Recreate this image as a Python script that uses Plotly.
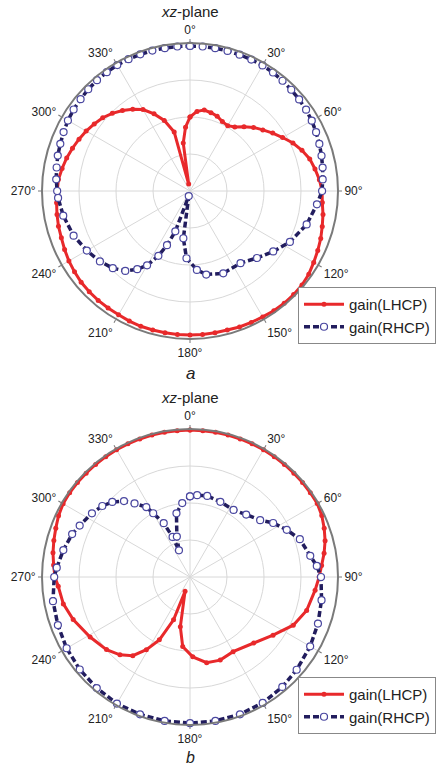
import plotly.graph_objects as go

# ---------------- data (gain in dB, angle in degrees) ----------------
A_LHCP_THETA = [0, 5, 10, 15, 20, 25, 30, 35, 40, 45,
                50, 55, 60, 65, 70, 75, 80, 85, 90, 95,
                100, 105, 110, 115, 120, 125, 130, 135, 140, 145,
                150, 155, 160, 165, 170, 175, 180, 185, 190, 195,
                200, 205, 210, 215, 220, 225, 230, 235, 240, 245,
                250, 255, 260, 265, 270, 275, 280, 285, 290, 295,
                300, 305, 310, 315, 320, 325, 330, 335, 340, 345,
                349, 352, 356, 360]
A_LHCP_GAIN = [-20.0, -18.4, -17.8, -18.1, -18.5, -19.3, -19.6, -18.9, -17.3, -15.7,
               -14.3, -12.7, -11.1, -9.3, -7.8, -6.5, -5.7, -4.9, -4.3, -4.1,
               -3.5, -3.0, -2.4, -1.9, -1.4, -0.8, -0.5, -0.4, -0.4, -0.5,
               -0.7, -0.8, -0.9, -1.1, -1.1, -1.1, -1.1, -1.1, -1.1, -1.1,
               -1.1, -1.2, -1.4, -1.4, -1.4, -1.5, -1.6, -1.9, -2.2, -2.6,
               -3.0, -3.2, -3.5, -3.8, -4.1, -4.3, -4.9, -5.5, -6.2, -6.9,
               -7.6, -8.4, -9.2, -10.3, -11.6, -13.0, -14.6, -17.0, -19.7, -23.5,
               -38.1, -26.9, -22.7, -20.0]

A_RHCP_THETA = [0, 5, 10, 15, 20, 25, 30, 35, 40, 45,
                50, 55, 60, 65, 70, 75, 80, 85, 90,
                96, 106, 117, 126, 135, 145, 158, 169, 175, 183, 188, 194,
                200, 203, 206, 210, 214, 219, 225, 232, 240, 249, 259, 267,
                270, 275, 280, 285, 290, 295, 300, 305, 310, 315,
                320, 325, 330, 335, 340, 345, 350, 355, 360]
A_RHCP_GAIN = [-0.8, -0.8, -0.8, -0.8, -0.8, -0.8, -0.8, -0.9, -1.1, -1.3,
               -1.5, -1.7, -2.0, -2.4, -2.8, -3.2, -3.6, -4.0, -4.3,
               -5.5, -7.2, -9.7, -12.2, -14.4, -16.2, -16.0, -17.0, -18.6, -21.8, -27.1, -38.6,
               -28.4, -24.1, -20.5, -16.8, -14.5, -12.2, -10.5, -9.1, -7.8, -6.3, -5.1, -4.3,
               -4.1, -3.7, -3.4, -3.0, -2.7, -2.3, -1.9, -1.6, -1.4, -1.1,
               -0.9, -0.8, -0.7, -0.7, -0.7, -0.7, -0.8, -0.8, -0.8]

B_LHCP_THETA = [0, 5, 10, 15, 20, 25, 30, 35, 40, 45,
                50, 55, 60, 65, 70, 75, 80, 85, 90,
                96, 106, 115, 125, 136, 150, 160, 169, 178, 186, 191, 199,
                201, 206, 211, 216, 222, 229, 239, 250, 258, 266,
                270, 275, 280, 285, 290, 295, 300, 305, 310, 315,
                320, 325, 330, 335, 340, 345, 350, 355, 360]
B_LHCP_GAIN = [-0.3, -0.3, -0.3, -0.3, -0.3, -0.3, -0.3, -0.3, -0.3, -0.3,
               -0.3, -0.3, -0.3, -0.7, -1.4, -2.2, -3.2, -4.3, -5.1,
               -6.0, -7.2, -9.2, -12.6, -15.2, -16.7, -16.1, -16.4, -18.4, -21.1, -26.3, -35.9,
               -27.6, -21.1, -17.1, -13.7, -11.7, -10.1, -8.5, -6.4, -5.0, -4.3,
               -3.5, -3.0, -2.4, -1.9, -1.4, -0.8, -0.4, -0.3, -0.3, -0.3,
               -0.3, -0.3, -0.3, -0.3, -0.3, -0.3, -0.3, -0.3, -0.3]

B_RHCP_THETA = [0, 5, 12, 22, 33, 42, 51, 57, 64, 71, 80, 85, 90,
                100, 110, 120, 131, 140, 150, 160, 170, 180, 190, 200, 210,
                220, 230, 240, 250, 260, 270,
                274, 282, 290, 295, 303, 309, 314, 319, 323, 328, 330, 334,
                336.5, 337.5, 342, 348, 354, 360]
B_RHCP_GAIN = [-18.2, -17.8, -17.6, -18.1, -18.4, -17.3, -15.6, -13.2, -10.9, -8.6, -7.0, -5.6, -4.6,
               -3.9, -3.2, -2.5, -1.8, -1.2, -0.7, -0.5, -0.5, -0.5, -0.5, -0.5, -0.5,
               -0.8, -1.1, -1.5, -2.0, -2.4, -3.3,
               -3.9, -5.0, -6.1, -7.1, -8.4, -9.5, -10.8, -12.8, -15.1, -17.7, -20.1, -23.8,
               -28.2, -32.2, -28.5, -22.4, -19.9, -18.2]

SERIES_NAMES = ["gain(LHCP)", "gain(RHCP)"]
ANGLE_TICKS = list(range(0, 360, 30))
ANGLE_LABELS = [f"{a}°" for a in ANGLE_TICKS]

RED = "#e8292b"
NAVY = "#221d5e"
NAVY_EDGE = "#4a47a0"

FONT = "Liberation Sans, Arial, sans-serif"

fig = go.Figure()

def add_pair(th_l, g_l, th_r, g_r, subplot, legend):
    fig.add_trace(go.Scatterpolar(
        theta=th_l, r=g_l, mode="lines+markers", name=SERIES_NAMES[0],
        line=dict(color=RED, width=3),
        marker=dict(color=RED, size=5, symbol="circle"),
        subplot=subplot, legend=legend))
    fig.add_trace(go.Scatterpolar(
        theta=th_r, r=g_r, mode="lines+markers", name=SERIES_NAMES[1],
        line=dict(color=NAVY, width=3.5, dash="6px,3px"),
        marker=dict(color="white", size=7, symbol="circle",
                    line=dict(color=NAVY_EDGE, width=1.2)),
        subplot=subplot, legend=legend))

add_pair(A_LHCP_THETA, A_LHCP_GAIN, A_RHCP_THETA, A_RHCP_GAIN, "polar", "legend")
add_pair(B_LHCP_THETA, B_LHCP_GAIN, B_RHCP_THETA, B_RHCP_GAIN, "polar2", "legend2")

W, H = 436, 769
R = 148
def dom(cx, cy):
    return dict(x=[(cx - R) / W, (cx + R) / W],
                y=[(H - cy - R) / H, (H - cy + R) / H])

angular = dict(rotation=90, direction="clockwise", tickmode="array",
               tickvals=ANGLE_TICKS, ticktext=ANGLE_LABELS,
               tickfont=dict(size=12, color="#222", family=FONT),
               ticks="outside", ticklen=3, tickcolor="#777",
               showgrid=True, gridcolor="#d8d8d8", gridwidth=1,
               showline=True, linecolor="#7a7a7a", linewidth=2)
radial = dict(range=[-40, 0], tickvals=[-30, -20, -10], showticklabels=False,
              ticks="", showline=False, showgrid=True,
              gridcolor="#d8d8d8", gridwidth=1)

legend_style = dict(font=dict(size=15, color="#222", family=FONT),
                    bgcolor="white", bordercolor="#888", borderwidth=1,
                    xanchor="left", yanchor="top", tracegroupgap=0,
                    itemwidth=40)

def label(text, cy, size):
    return dict(text=text, x=190 / W, y=(H - cy) / H, xref="paper", yref="paper",
                xanchor="center", yanchor="middle", showarrow=False,
                font=dict(size=size, color="#222", family=FONT))

fig.update_layout(
    width=W, height=H,
    margin=dict(l=0, r=0, t=0, b=0, autoexpand=False),
    paper_bgcolor="white",
    font=dict(family=FONT),
    polar=dict(domain=dom(190, 191), angularaxis=angular, radialaxis=radial,
               bgcolor="white"),
    polar2=dict(domain=dom(190, 577), angularaxis=angular, radialaxis=radial,
                bgcolor="white"),
    legend=dict(x=298 / W, y=(H - 287) / H, **legend_style),
    legend2=dict(x=298 / W, y=(H - 677) / H, **legend_style),
    annotations=[
        label("<i>xz</i>-plane", 12, 15),
        label("<i>a</i>", 373, 17),
        label("<i>xz</i>-plane", 397, 15),
        label("<i>b</i>", 757, 16),
    ],
)

fig.write_html("out.html")
